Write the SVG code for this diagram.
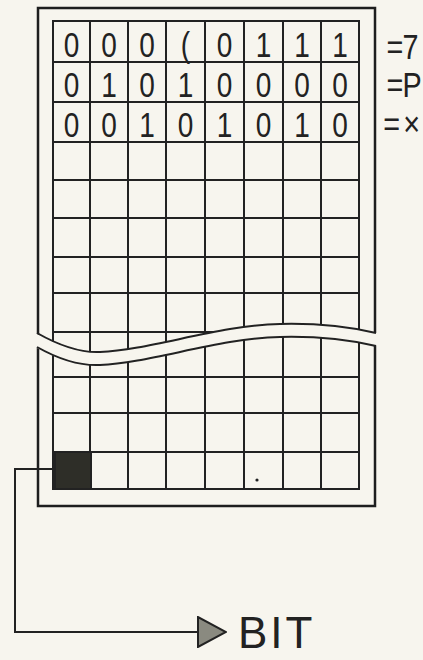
<svg xmlns="http://www.w3.org/2000/svg" width="423" height="660" viewBox="0 0 423 660">
<style>
.bg{fill:#f7f5ee}
.ln{stroke:#222;stroke-width:2;fill:none}
.frame{stroke:#1e1e1e;stroke-width:2.5;fill:none}
.d{font-family:"Liberation Sans",Arial,sans-serif;font-size:35px;fill:#222;text-anchor:middle}
.lab{font-family:"Liberation Sans",Arial,sans-serif;font-size:36px;fill:#222}
.big{font-family:"Liberation Sans",Arial,sans-serif;font-size:44px;fill:#222;letter-spacing:3px}
</style>
<defs>
<marker id="arrow" markerUnits="userSpaceOnUse" markerWidth="30" markerHeight="32" refX="1" refY="16" orient="auto">
<polygon points="1,1 1,31 29,16" fill="#8a8a80" stroke="#222" stroke-width="2"/>
</marker>
</defs>
<rect class="bg" x="0" y="0" width="423" height="660"/>
<g id="memory-grid">
<rect class="frame" x="38" y="8" width="337" height="498"/>
<rect class="ln" x="53" y="21" width="306" height="468"/>
<path class="ln" d="M90,21V489M128,21V489M166,21V489M205,21V489M244,21V489M283,21V489M321,21V489"/>
<path class="ln" d="M53,62H359M53,102H359M53,142H359M53,180H359M53,218H359M53,257H359M53,293H359M53,332H359M53,377H359M53,413H359M53,452H359"/>
<path class="bg" d="M35,333 C60,346 80,353 100,352 C150,350 220,325 280,324 C320,323 350,327 378,333 L378,346 C350,340 320,336 280,337 C220,338 150,363 100,365 C80,366 60,360 35,347 Z"/>
<path class="ln" d="M37,333 C60,346 80,353 100,352 C150,350 220,325 280,324 C320,323 350,327 376,333"/>
<path class="ln" d="M37,347 C60,360 80,366 100,365 C150,363 220,338 280,337 C320,336 350,340 376,346"/>
<circle cx="257" cy="480" r="1.6" fill="#222"/>
</g>
<g id="row-1" transform="scale(0.8,1)">
<text class="d" x="89.4" y="57">0</text><text class="d" x="136.3" y="57">0</text><text class="d" x="183.8" y="57">0</text><text class="d" x="231.9" y="57">(</text><text class="d" x="280.6" y="57">0</text><text class="d" x="329.4" y="57">1</text><text class="d" x="377.5" y="57">1</text><text class="d" x="425" y="57">1</text>
<text class="lab" x="483" y="59" letter-spacing="-1">=7</text>
</g>
<g id="row-2" transform="scale(0.8,1)">
<text class="d" x="89.4" y="97">0</text><text class="d" x="136.3" y="97">1</text><text class="d" x="183.8" y="97">0</text><text class="d" x="231.9" y="97">1</text><text class="d" x="280.6" y="97">0</text><text class="d" x="329.4" y="97">0</text><text class="d" x="377.5" y="97">0</text><text class="d" x="425" y="97">0</text>
<text class="lab" x="483" y="97" letter-spacing="-1">=P</text>
</g>
<g id="row-3" transform="scale(0.8,1)">
<text class="d" x="89.4" y="137">0</text><text class="d" x="136.3" y="137">0</text><text class="d" x="183.8" y="137">1</text><text class="d" x="231.9" y="137">0</text><text class="d" x="280.6" y="137">1</text><text class="d" x="329.4" y="137">0</text><text class="d" x="377.5" y="137">1</text><text class="d" x="425" y="137">0</text>
<text class="lab" x="479" y="136" letter-spacing="-3">= ×</text>
</g>
<g id="bit-cell">
<rect x="55" y="452" width="36" height="37" fill="#2e2e28" stroke="#222" stroke-width="2"/>
</g>
<g id="connectors">
<polyline class="ln" points="55,469 15,469 15,632 198,632" marker-end="url(#arrow)"/>
</g>
<g id="bit-label">
<text class="big" x="238" y="648">BIT</text>
</g>
</svg>
